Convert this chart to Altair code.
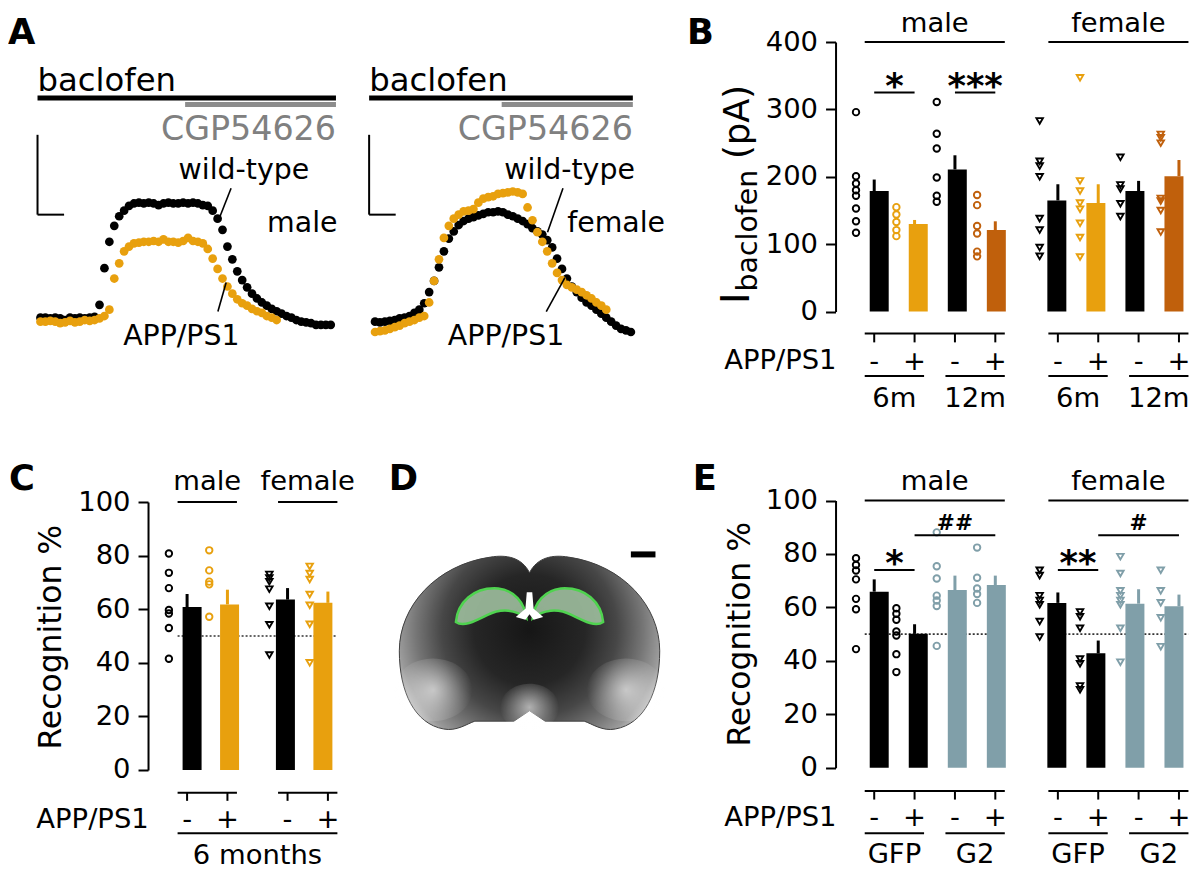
import altair as alt
import pandas as pd

FONT = "DejaVu Sans"
M = 8            # page margin
W, H = 1184, 866 # drawing area
SX, SY = 0.984, 0.974  # fit the 1200x882 figure inside the drawing area
FS = 0.98              # font scale

# ---------------- style keys ----------------
COLOR_KEYS = ["black", "orange", "rust", "slate"]
COLOR_VALS = ["#000000", "#E8A00E", "#C0600C", "#809FA9"]
SHAPE_KEYS = ["male", "female"]
SHAPE_VALS = ["circle", "triangle-down"]

# ---------------- Panel A: example traces (pA, one value per sample) ----------------
A_MALE_WT = [5, 5, 4, 5, 4, 2, 5, 4, 5, 4, 5, 6,
             21, 67, 100, 120, 132, 139, 145, 148,
             149, 148, 149, 148, 146, 148, 149, 148, 148, 149, 148, 149, 148, 146,
             145, 139, 129, 115, 94, 78, 63, 52, 43, 35, 29, 24, 20, 16, 13, 10,
             7, 5, 2, 0, -1, -2, -4, -4, -4, -4]
A_MALE_APP = [0, 0, 1, 0, -2, -1, 1, -1, 0, 2, 1, 2, 4, 7, 15, 54, 73, 88, 94, 98,
              99, 100, 100, 101, 100, 103, 100, 100, 99, 101, 105, 101, 100, 98, 91,
              79, 66, 54, 44, 35, 28, 23, 20, 16, 13, 11, 7, 5, 2]
A_FEMALE_WT = [0, -1, 0, 1, 2, 4, 5, 7, 11, 15, 23, 37, 51, 68, 88, 104, 113, 121,
               126, 129, 131, 133, 135, 137, 137, 138, 137, 134, 132, 129, 126, 122,
               117, 113, 109, 102, 93, 79, 66, 54, 44, 37, 30, 24, 20, 15, 10, 5, 0,
               -5, -9, -11, -13]
A_FEMALE_APP = [-13, -12, -11, -9, -7, -5, -2, 0, 2, 5, 7, 24, 51, 78, 105, 120, 129,
                134, 138, 139, 141, 149, 154, 156, 157, 160, 161, 162, 163, 162, 160,
                143, 127, 112, 100, 88, 73, 61, 52, 46, 43, 40, 37, 33, 29, 24, 20, 15]

# ---------------- Panel B: I baclofen (pA) ----------------
B_MALE_MEAN = [179, 130, 211, 121]
B_MALE_SEM = [17, 6, 21, 13]
B_FEMALE_MEAN = [165, 161, 179, 201]
B_FEMALE_SEM = [24, 28, 15, 24]
B_M6_WT = [296, 201, 190, 180, 172, 153, 134, 117]
B_M6_APP = [155, 144, 133, 121, 112]
B_M12_WT = [311, 264, 242, 199, 172, 163]
B_M12_APP = [173, 158, 127, 116, 89, 82]
B_F6_WT = [283, 223, 216, 200, 138, 121, 95, 82]
B_F6_APP = [347, 194, 179, 161, 152, 131, 110, 81]
B_F12_WT = [229, 188, 182, 160, 141]
B_F12_APP = [263, 258, 250, 168, 164, 150, 118]
B_AGES = ["6m", "12m"]
APP_SIGNS = ["-", "+"]

# ---------------- Panel C: recognition %, 6 months ----------------
C_MALE_MEAN = [60.8, 61.8]
C_MALE_SEM = [4.9, 5.5]
C_FEMALE_MEAN = [63.6, 62.4]
C_FEMALE_SEM = [4.3, 4.2]
C_M_WT = [80.8, 73.6, 67.9, 59.7, 58.4, 53.0, 41.5]
C_M_APP = [82.0, 74.5, 70.3, 69.3, 57.2]
C_F_WT = [73.0, 71.7, 70.3, 67.5, 61.1, 54.2, 42.9]
C_F_APP = [76.0, 73.3, 71.1, 65.5, 61.5, 54.4, 40.0]

# ---------------- Panel E: recognition %, GFP vs G2 ----------------
E_MALE_MEAN = [65.9, 50.1, 66.5, 68.4]
E_MALE_SEM = [4.6, 3.6, 5.4, 3.5]
E_FEMALE_MEAN = [61.7, 42.8, 61.4, 60.4]
E_FEMALE_SEM = [3.9, 4.8, 5.4, 4.4]
E_M_GFP_WT = [78.4, 75.9, 73.8, 70.5, 63.2, 59.3, 44.4]
E_M_GFP_APP = [59.7, 57.6, 55.4, 51.0, 49.5, 42.5, 35.8]
E_M_G2_WT = [88.1, 75.4, 70.8, 64.4, 62.6, 60.5, 45.6]
E_M_G2_APP = [82.4, 71.1, 67.1, 65.0, 61.7]
E_F_GFP_WT = [73.9, 71.9, 64.4, 62.6, 61.0, 54.7, 48.9]
E_F_GFP_APP = [58.3, 56.5, 52.2, 40.7, 38.9, 30.6, 29.2]
E_F_G2_WT = [79.0, 72.7, 66.2, 64.4, 62.6, 61.0, 52.2, 39.5]
E_F_G2_APP = [73.9, 66.2, 61.7, 56.1, 45.3]
E_VECTORS = ["GFP", "G2"]

# =====================================================================
COLOR = alt.Color("col:N", scale=alt.Scale(domain=COLOR_KEYS, range=COLOR_VALS), legend=None)
SHAPE = alt.Shape("sex:N", scale=alt.Scale(domain=SHAPE_KEYS, range=SHAPE_VALS), legend=None)
ONE = pd.DataFrame({"k": [0]})
BAR_W = 19.3 * SX


def fs(size):
    return round(size * FS, 1)


def qx(domain, a, b):
    return alt.Scale(domain=domain, range=[a * SX, b * SX], nice=False, zero=False)


def qy(domain, a, b):
    return alt.Scale(domain=domain, range=[a * SY, b * SY], nice=False, zero=False)


def hrules(df, xs, ys, width=2.0, color="black", yoff=None, dash=None):
    kw = dict(strokeWidth=width, color=color)
    if yoff is not None:
        kw["yOffset"] = yoff * SY
    if dash is not None:
        kw["strokeDash"] = dash
    return alt.Chart(df).mark_rule(**kw).encode(
        x=alt.X("x0:Q", scale=xs, axis=None), x2="x1:Q",
        y=alt.Y("y:Q", scale=ys, axis=None))


def segs(df, xs, ys, width=1.5, color="black"):
    return alt.Chart(df).mark_rule(strokeWidth=width, color=color).encode(
        x=alt.X("x0:Q", scale=xs, axis=None), x2="x1:Q",
        y=alt.Y("y0:Q", scale=ys, axis=None), y2="y1:Q")


def dtext(df, xs, ys, size=28, bold=False, dy=0, align="center", color="black"):
    return alt.Chart(df).mark_text(
        font=FONT, fontSize=fs(size), fontWeight="bold" if bold else "normal",
        dy=dy * SY, align=align, baseline="alphabetic", color=color).encode(
        x=alt.X("x:Q", scale=xs, axis=None), y=alt.Y("y:Q", scale=ys, axis=None),
        text="label:N")


def ptext(label, x, y, size=28, bold=False, align="left", angle=None, color="black"):
    kw = dict(font=FONT, fontSize=fs(size), fontWeight="bold" if bold else "normal",
              align=align, baseline="alphabetic", color=color, text=label)
    if angle is not None:
        kw["angle"] = angle
    return alt.Chart(ONE).mark_text(**kw).encode(x=alt.value(x * SX), y=alt.value(y * SY))


def yaxis(vals, x_page):
    return alt.Axis(values=vals, orient="left", offset=-(x_page * SX), tickSize=10,
                    tickWidth=2, tickColor="black", domainWidth=2, domainColor="black",
                    labelFont=FONT, labelFontSize=fs(28), labelColor="black", labelPadding=8,
                    labelOverlap=False, grid=False, title=None)


def bar_panel(xs, ys, top, tick_vals, axis_x, slots, means, sems, cols, sexes, pts,
              headers, hdr_dy, sigs, lowers, geo, step, refs=None):
    hw = 19.3 / 2 / step
    out = []
    if refs:
        rdf = pd.DataFrame({"x0": [a - hw for a, b in refs], "x1": [b + hw for a, b in refs],
                            "y": [50] * len(refs)})
        out.append(hrules(rdf, xs, ys, width=1.6, color="#333333", dash=[2, 2]))
    bars = pd.DataFrame({"pos": slots, "mean": means,
                         "hi": [m + s for m, s in zip(means, sems)],
                         "zero": [0] * len(slots), "col": cols})
    out.append(alt.Chart(bars).mark_bar(size=BAR_W).encode(
        x=alt.X("pos:Q", scale=xs, axis=None),
        y=alt.Y("mean:Q", scale=ys, axis=yaxis(tick_vals, axis_x)),
        y2="zero:Q", color=COLOR))
    out.append(alt.Chart(bars).mark_rule(strokeWidth=3).encode(
        x=alt.X("pos:Q", scale=xs, axis=None),
        y=alt.Y("mean:Q", scale=ys, axis=None), y2="hi:Q", color=COLOR))
    rows = []
    for p, c, s, vals in zip(slots, cols, sexes, pts):
        for v in vals:
            rows.append({"pos": p, "val": v, "col": c, "sex": s})
    out.append(alt.Chart(pd.DataFrame(rows)).mark_point(
        filled=False, size=42, strokeWidth=1.9, xOffset=-18.5 * SX, opacity=1).encode(
        x=alt.X("pos:Q", scale=xs, axis=None), y=alt.Y("val:Q", scale=ys, axis=None),
        color=COLOR, shape=SHAPE))
    # group headers (sex)
    hdf = pd.DataFrame({"x0": [a - hw for _, a, b in headers],
                        "x1": [b + hw for _, a, b in headers],
                        "y": [top] * len(headers),
                        "x": [(a + b) / 2 for _, a, b in headers],
                        "label": [l for l, _, _ in headers]})
    out.append(hrules(hdf, xs, ys))
    out.append(dtext(hdf, xs, ys, size=28, dy=hdr_dy))
    # significance bars
    if sigs:
        sdf = pd.DataFrame({"x0": [a for _, a, b, y in sigs], "x1": [b for _, a, b, y in sigs],
                            "y": [y for _, a, b, y in sigs],
                            "x": [(a + b) / 2 for _, a, b, y in sigs],
                            "label": [l for l, a, b, y in sigs]})
        out.append(hrules(sdf, xs, ys))
        star = sdf[[l.startswith("*") for l in sdf["label"]]]
        hsh = sdf[[l.startswith("#") for l in sdf["label"]]]
        if len(star):
            out.append(dtext(star, xs, ys, size=36, bold=True, dy=5.5))
        if len(hsh):
            out.append(dtext(hsh, xs, ys, size=22, bold=True, dy=-5))
    # genotype axis below the bars
    sdf2 = hdf.assign(y=0)
    out.append(hrules(sdf2, xs, ys, yoff=geo[0]))
    tdf = pd.DataFrame({"pos": slots, "y": [0] * len(slots),
                        "x": slots, "label": APP_SIGNS * (len(slots) // 2)})
    out.append(alt.Chart(tdf).mark_rule(strokeWidth=2, color="black",
                                         yOffset=geo[0] * SY, y2Offset=geo[1] * SY).encode(
        x=alt.X("pos:Q", scale=xs, axis=None), y=alt.Y("y:Q", scale=ys, axis=None), y2="y:Q"))
    out.append(dtext(tdf, xs, ys, size=28, dy=geo[2]))
    ldf = pd.DataFrame({"x0": [a - hw for _, a, b in lowers], "x1": [b + hw for _, a, b in lowers],
                        "y": [0] * len(lowers), "x": [(a + b) / 2 for _, a, b in lowers],
                        "label": [l for l, _, _ in lowers]})
    out.append(hrules(ldf, xs, ys, yoff=geo[3]))
    out.append(dtext(ldf, xs, ys, size=28, dy=geo[4]))
    return out


layers = []

# ======================= Panel A =======================
yA = qy([0, 150], 322, 322 - 150 / 1.22)
xAL = qx([0, 59], 33, 328)
xAR = qx([0, 52], 373, 633)


def trace(values, xs, color):
    df = pd.DataFrame({"t": list(range(len(values))), "v": values})
    return alt.Chart(df).mark_circle(size=76, opacity=1, color=color).encode(
        x=alt.X("t:Q", scale=xs, axis=None), y=alt.Y("v:Q", scale=yA, axis=None))


for xs, wt, app, sex, geo in [
    (xAL, A_MALE_WT, A_MALE_APP, "male",
     dict(s0=-0.6, s1=60.06, c0=29.4, sb=4.8, wt=28.06, sx=46.06, ap=16.8,
          l1=(38.74, 167, 36.4, 130.5), l2=(37.74, 49, 36.06, 12.6))),
    (xAR, A_FEMALE_WT, A_FEMALE_APP, "female",
     dict(s0=-1.2, s1=52.4, c0=25.74, sb=4.2, wt=26.26, sx=39.06, ap=14.8,
          l1=(38.2, 167, 35.06, 112), l2=(38.6, 55, 34.8, 12.6))),
]:
    layers.append(trace(wt, xs, "#000000"))
    layers.append(trace(app, xs, "#E8A00E"))
    layers.append(hrules(pd.DataFrame({"x0": [geo["s0"]], "x1": [geo["s1"]], "y": [280]}),
                         xs, yA, width=5))
    layers.append(hrules(pd.DataFrame({"x0": [geo["c0"]], "x1": [geo["s1"]], "y": [272]}),
                         xs, yA, width=5, color="#8c8c8c"))
    layers.append(segs(pd.DataFrame({"x0": [geo["s0"], geo["s0"]], "x1": [geo["s0"], geo["sb"]],
                                     "y0": [134, 134], "y1": [234, 134]}), xs, yA, width=2))
    layers.append(segs(pd.DataFrame({"x0": [geo["l1"][0], geo["l2"][0]],
                                     "y0": [geo["l1"][1], geo["l2"][1]],
                                     "x1": [geo["l1"][2], geo["l2"][2]],
                                     "y1": [geo["l1"][3], geo["l2"][3]]}), xs, yA, width=1.6))
    layers.append(dtext(pd.DataFrame({"x": [geo["s0"]], "y": [289], "label": ["baclofen"]}),
                        xs, yA, size=33, align="left"))
    layers.append(dtext(pd.DataFrame({"x": [geo["s1"]], "y": [228], "label": ["CGP54626"]}),
                        xs, yA, size=34, align="right", color="#808080"))
    layers.append(dtext(pd.DataFrame({"x": [geo["wt"], geo["sx"], geo["ap"]], "y": [179, 112, -29],
                                      "label": ["wild-type", sex, "APP/PS1"]}),
                        xs, yA, size=29, align="left"))

# ======================= Panel B =======================
xB = qx([0, 7.55], 880.3, 1190)
yB = qy([0, 400], 311.7, 35)
slots8 = [0, 1, 2, 3, 4.55, 5.55, 6.55, 7.55]
layers += bar_panel(
    xB, yB, 400, [0, 100, 200, 300, 400], 841, slots8,
    B_MALE_MEAN + B_FEMALE_MEAN, B_MALE_SEM + B_FEMALE_SEM,
    ["black", "orange", "black", "rust"] * 2, ["male"] * 4 + ["female"] * 4,
    [B_M6_WT, B_M6_APP, B_M12_WT, B_M12_APP, B_F6_WT, B_F6_APP, B_F12_WT, B_F12_APP],
    [("male", 0, 3), ("female", 4.55, 7.55)], -10,
    [("*", 0, 1, 325), ("***", 2, 3, 325)],
    [(B_AGES[0], 0, 1), (B_AGES[1], 2, 3), (B_AGES[0], 4.55, 5.55), (B_AGES[1], 6.55, 7.55)],
    (22.6, 31.6, 60, 66, 98), 41.02)

# ======================= Panel C =======================
xC = qx([0, 3.49], 182, 325.1)
yC = qy([0, 100], 782.3, 507.3)
layers += bar_panel(
    xC, yC, 100, [0, 20, 40, 60, 80, 100], 142.3, [0, 1, 2.49, 3.49],
    C_MALE_MEAN + C_FEMALE_MEAN, C_MALE_SEM + C_FEMALE_SEM,
    ["black", "orange"] * 2, ["male"] * 2 + ["female"] * 2,
    [C_M_WT, C_M_APP, C_F_WT, C_F_APP],
    [("male", 0, 1), ("female", 2.49, 3.49)], -12, [],
    [("6 months", 0, 3.49)],
    (23.4, 31.7, 59.7, 65, 96.5), 41.0, refs=[(0, 3.49)])

# ======================= Panel E =======================
xE = qx([0, 7.55], 880.3, 1190)
yE = qy([0, 100], 780, 505.7)
layers += bar_panel(
    xE, yE, 100, [0, 20, 40, 60, 80, 100], 841, slots8,
    E_MALE_MEAN + E_FEMALE_MEAN, E_MALE_SEM + E_FEMALE_SEM,
    ["black", "black", "slate", "slate"] * 2, ["male"] * 4 + ["female"] * 4,
    [E_M_GFP_WT, E_M_GFP_APP, E_M_G2_WT, E_M_G2_APP,
     E_F_GFP_WT, E_F_GFP_APP, E_F_G2_WT, E_F_G2_APP],
    [("male", 0, 3), ("female", 4.55, 7.55)], -11,
    [("*", 0, 1, 74), ("##", 1, 3, 87), ("**", 4.55, 5.55, 74), ("#", 5.55, 7.55, 87)],
    [(E_VECTORS[0], 0, 1), (E_VECTORS[1], 2, 3), (E_VECTORS[0], 4.55, 5.55), (E_VECTORS[1], 6.55, 7.55)],
    (24, 32.7, 60, 67.3, 98), 41.02, refs=[(0, 3), (4.55, 7.55)])

# ======================= Panel D: brain section sketch =======================
BRAIN = ("M 0 -0.54 C -0.06 -0.66 -0.18 -0.68 -0.3 -0.66 C -0.72 -0.6 -1 -0.28 -1 0.06 "
         "C -1 0.38 -0.88 0.62 -0.66 0.66 C -0.56 0.68 -0.48 0.62 -0.42 0.6 L -0.12 0.6 "
         "L 0 0.52 L 0.12 0.6 L 0.42 0.6 C 0.48 0.62 0.56 0.68 0.66 0.66 "
         "C 0.88 0.62 1 0.38 1 0.06 C 1 -0.28 0.72 -0.6 0.3 -0.66 C 0.18 -0.68 0.06 -0.66 0 -0.54 Z")
grad = alt.RadialGradient(
    gradient="radial", x1=0.5, y1=0.45, r1=0, x2=0.5, y2=0.45, r2=0.56,
    stops=[alt.GradientStop(offset=0, color="#161616"),
           alt.GradientStop(offset=0.38, color="#262626"),
           alt.GradientStop(offset=0.6, color="#474747"),
           alt.GradientStop(offset=0.78, color="#767676"),
           alt.GradientStop(offset=0.9, color="#9a9a9a"),
           alt.GradientStop(offset=1, color="#d4d4d4")])
glow = alt.RadialGradient(
    gradient="radial", x1=0.5, y1=0.5, r1=0, x2=0.5, y2=0.5, r2=0.5,
    stops=[alt.GradientStop(offset=0, color="rgba(255,255,255,0.6)"),
           alt.GradientStop(offset=1, color="rgba(255,255,255,0)")])


def shape_at(path, x, y, width, **kw):
    return alt.Chart(ONE).mark_point(shape=path, size=width * width * SX * SY, opacity=1, **kw).encode(
        x=alt.value(x * SX), y=alt.value(y * SY))


layers.append(shape_at(BRAIN, 530, 652, 266, filled=True, fill=grad, stroke="#404040", strokeWidth=1))
ELL = "M -1 0 A 1 0.8 0 1 1 1 0 A 1 0.8 0 1 1 -1 0 Z"
layers.append(shape_at(ELL, 432, 700, 80, filled=True, fill=glow, strokeWidth=0))
layers.append(shape_at(ELL, 628, 700, 80, filled=True, fill=glow, strokeWidth=0))
layers.append(shape_at(ELL, 530, 718, 60, filled=True, fill=glow, strokeWidth=0))
WING_L = ("M -1 0.45 C -0.95 -0.1 -0.5 -0.55 0.2 -0.5 C 0.65 -0.45 0.95 -0.1 1 0.35 "
          "C 0.7 0.1 0.3 0.05 -0.1 0.25 C -0.5 0.45 -0.8 0.6 -1 0.45 Z")
WING_R = ("M 1 0.45 C 0.95 -0.1 0.5 -0.55 -0.2 -0.5 C -0.65 -0.45 -0.95 -0.1 -1 0.35 "
          "C -0.7 0.1 -0.3 0.05 0.1 0.25 C 0.5 0.45 0.8 0.6 1 0.45 Z")
layers.append(shape_at(WING_L, 491, 614, 72, filled=True, fill="#9fbf9f", fillOpacity=0.9,
                       stroke="#4fd34f", strokeWidth=2.5))
layers.append(shape_at(WING_R, 569, 614, 72, filled=True, fill="#9fbf9f", fillOpacity=0.9,
                       stroke="#4fd34f", strokeWidth=2.5))
YSH = "M -0.2 -1 L 0.2 -1 L 0.3 0.2 L 1 0.8 L 0.3 1 L 0 0.6 L -0.3 1 L -1 0.8 L -0.3 0.2 Z"
layers.append(shape_at(YSH, 530, 614, 28, filled=True, fill="#ffffff", strokeWidth=0))
layers.append(alt.Chart(ONE).mark_rule(strokeWidth=6, color="black").encode(
    x=alt.value(633 * SX), x2=alt.value(658 * SX), y=alt.value(561 * SY)))

# ======================= titles & letters =======================
layers += [
    ptext("A", 0, 37, size=36, bold=True),
    ptext("B", 690, 37, size=36, bold=True),
    ptext("C", 1, 495, size=36, bold=True),
    ptext("D", 387, 495, size=36, bold=True),
    ptext("E", 696, 495, size=36, bold=True),
    ptext("APP/PS1", 842, 371, align="right"),
    ptext("APP/PS1", 143, 842, align="right"),
    ptext("APP/PS1", 842, 840, align="right"),
    ptext("Recognition %", 54, 646, size=32, align="center", angle=270),
    ptext("Recognition %", 754, 643, size=32, align="center", angle=270),
    ptext("I", 753, 304, size=40, angle=270),
    ptext("baclofen", 761, 291, size=29, angle=270),
    ptext("(pA)", 753, 155, size=36, angle=270),
]

chart = alt.layer(*layers).properties(
    width=W, height=H, padding=0, autosize=alt.AutoSizeParams(type="none")
).resolve_scale(x="independent", y="independent").configure_view(stroke=None)

chart.save("out.html", embed_options={"renderer": "svg", "actions": False})
